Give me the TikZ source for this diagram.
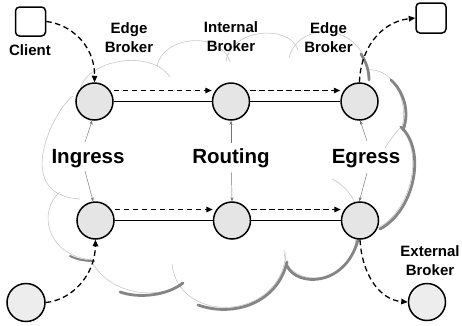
\documentclass[tikz,border=0pt]{standalone}
\usepackage{fontspec}
\setmainfont{Liberation Sans}
\usetikzlibrary{arrows.meta,calc}
\begin{document}
\begin{tikzpicture}[x=1pt,y=-1pt,
  broker/.style={circle, draw=black, line width=1.5pt, fill=black!10, minimum size=37pt, inner sep=0pt},
  host/.style={rectangle, rounded corners=4pt, draw=black, line width=1.5pt, fill=white, minimum width=30pt, minimum height=29pt, inner sep=0pt},
  lbl/.style={font=\bfseries\fontsize{15}{19}\selectfont, align=center, inner sep=0pt},
  biglbl/.style={font=\bfseries\fontsize{20.5}{24}\selectfont, inner sep=0pt, anchor=base},
  link/.style={line width=1pt},
  flow/.style={dash pattern=on 5.5pt off 3.5pt, line width=1.3pt, -{Triangle[length=6.5pt,width=5.5pt]}},
  pointer/.style={draw=black!55, line width=0.45pt, -{Stealth[length=4pt,width=3pt]}},
  cloudline/.style={draw=black!22, line width=0.6pt},
  cloudshade/.style={draw=black!48, line width=2.8pt, line cap=round}]
\useasboundingbox (0,0) rectangle (462,325);

% cloud outline, lobe by lobe
\draw[cloudline] (80,90) .. controls (86,60) and (150,48) .. (170,77);
\draw[cloudline] (157,66) .. controls (163,36) and (220,30) .. (230,62);
\draw[cloudline] (226,62) .. controls (230,28) and (290,24) .. (298,50);
\draw[cloudline] (289,58) .. controls (298,20) and (362,22) .. (368,72);
\draw[cloudline] (366,70) .. controls (395,66) and (410,105) .. (401,130);
\draw[cloudline] (399,126) .. controls (425,150) and (412,210) .. (378,228);
\draw[cloudline] (284,250) .. controls (284,290) and (352,288) .. (356,238);
\draw[cloudline] (172,264) .. controls (178,325) and (282,322) .. (286,252);
\draw[cloudline] (90,258) .. controls (108,298) and (165,300) .. (182,282);
\draw[cloudline] (60,192) .. controls (38,210) and (45,255) .. (92,260);
\draw[cloudline] (73,96) .. controls (55,108) and (10,195) .. (80,199);
\draw[cloudline] (385,148) .. controls (390,140) and (396,132) .. (400,128);
\draw[cloudline] (332,179) .. controls (342,184) and (350,192) .. (355,203);

% cloud shadow on the lower right
\draw[cloudshade] (361,54) .. controls (366,62) and (369,70) .. (369,80);
\draw[cloudshade] (391,80) .. controls (404,92) and (410,112) .. (403,130);
\draw[cloudshade] (401,127) .. controls (427,151) and (414,211) .. (380,229);
\draw[cloudshade] (287,266) .. controls (297,287) and (345,287) .. (358,240);
\draw[cloudshade] (198,305) .. controls (235,318) and (278,302) .. (287,262);
\draw[cloudshade] (120,292) .. controls (140,299) and (168,295) .. (183,283);
\draw[cloudshade, line width=2pt] (70,256) .. controls (78,260) and (86,261) .. (94,261);

% brokers and hosts
\node[broker] (A) at (94.5,101.5) {};
\node[broker] (B) at (231,101.5) {};
\node[broker] (C) at (359.5,101.5) {};
\node[broker] (D) at (95.5,220.5) {};
\node[broker] (E) at (232,220.5) {};
\node[broker] (F) at (360,220.5) {};
\node[host] (client) at (30.5,21.5) {};
\node[host, minimum height=30pt] (dest) at (431,18) {};
\node[broker, minimum size=38pt, fill=black!7] (src) at (26,302.5) {};
\node[broker, fill=black!7] (ext) at (427,302) {};

% labels
\node[lbl, anchor=base] (clientlbl) at (30,55) {Client};
\node[lbl, anchor=north] (edge1) at (129,22) {Edge\\Broker};
\node[lbl, anchor=north] (internal) at (231,21) {Internal\\Broker};
\node[lbl, anchor=north] (edge2) at (328.5,22) {Edge\\Broker};
\node[lbl, anchor=north] (external) at (430,245) {External\\Broker};
\node[biglbl] (ing) at (88,163) {Ingress};
\node[biglbl] (rt) at (231,163) {Routing};
\node[biglbl] (eg) at (366,163) {Egress};

% links between brokers
\draw[link] (A) -- (B);
\draw[link] (B) -- (C);
\draw[link] (D) -- (E);
\draw[link] (E) -- (F);

% message flow
\draw[flow] ($(A.east)+(0,-11)$) -- ($(B.west)+(0,-11)$);
\draw[flow] ($(B.east)+(0,-11)$) -- ($(C.west)+(0,-11)$);
\draw[flow] ($(D.east)+(0,-11)$) -- ($(E.west)+(0,-11)$);
\draw[flow] ($(E.east)+(0,-11)$) -- ($(F.west)+(0,-11)$);
\draw[flow] (client.east) .. controls (70,24) and (95,45) .. (A.north);
\draw[flow] (src.east) .. controls (72,300) and (95,275) .. (D.south);
\draw[flow] (C.north) .. controls (360,50) and (380,22) .. (dest.west);
\draw[flow] (F.south) .. controls (362,275) and (380,300) .. (ext.west);

% stage pointers
\coordinate (ingU) at (85,142);
\coordinate (ingD) at (85,171);
\coordinate (rtU) at (231,143);
\coordinate (rtD) at (231.5,172);
\coordinate (egU) at (367,141);
\coordinate (egD) at (367,173);
\draw[pointer] (ingU) -- (A.263);
\draw[pointer] (ingD) -- (D.97);
\draw[pointer] (rtU) -- (B.south);
\draw[pointer] (rtD) -- (E.north);
\draw[pointer] (egU) -- (C.272);
\draw[pointer] (egD) -- (F.92);
\end{tikzpicture}
\end{document}
